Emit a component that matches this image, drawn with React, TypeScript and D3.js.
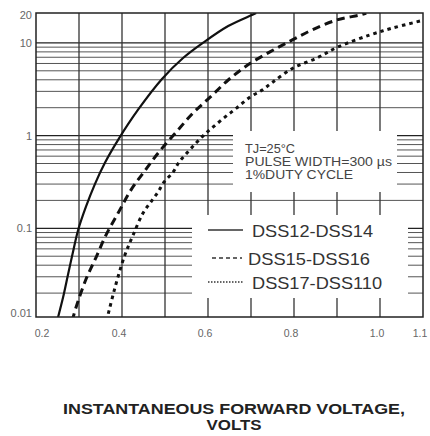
import * as d3 from "d3";
import React, { useEffect, useRef } from "react";

// axis ticks
const xTickValues = [0.2, 0.4, 0.6, 0.8, 1.0, 1.1];
const xTickLabels = ["0.2", "0.4", "0.6", "0.8", "1.0", "1.1"];
const yTickValues = [0.01, 0.1, 1, 10, 20];
const yTickLabels = ["0.01", "0.1", "1", "10", "20"];

// DSS12-DSS14 (solid)
const dss12Volts = [0.249, 0.263, 0.274, 0.286, 0.298, 0.316, 0.337, 0.36, 0.391, 0.437, 0.493, 0.542, 0.588, 0.647, 0.702, 0.712];
const dss12Amps = [0.01, 0.018, 0.031, 0.0555, 0.096, 0.17, 0.3, 0.506, 0.9, 1.89, 4.08, 6.87, 10, 15.2, 20, 21];

// DSS15-DSS16 (dashed)
const dss15Volts = [0.284, 0.293, 0.316, 0.34, 0.363, 0.391, 0.421, 0.451, 0.486, 0.526, 0.565, 0.605, 0.647, 0.693, 0.744, 0.795, 0.842, 0.9, 0.953, 0.968];
const dss15Amps = [0.01, 0.014, 0.028, 0.049, 0.085, 0.146, 0.26, 0.405, 0.665, 1.09, 1.75, 2.6, 3.98, 5.8, 8.0, 10.7, 13.8, 17.7, 20, 21];

// DSS17-DSS110 (dotted)
const dss17Volts = [0.364, 0.381, 0.405, 0.426, 0.449, 0.467, 0.484, 0.498, 0.519, 0.533, 0.553, 0.572, 0.591, 0.612, 0.64, 0.667, 0.698, 0.726, 0.751, 0.798, 0.853, 0.902, 0.977, 1.03, 1.093];
const dss17Amps = [0.01, 0.0206, 0.049, 0.085, 0.146, 0.192, 0.247, 0.316, 0.405, 0.52, 0.665, 0.83, 1.02, 1.24, 1.59, 1.99, 2.61, 3.1, 3.79, 5.36, 6.87, 9.03, 12.2, 14.5, 17.2];

const seriesNames = ["DSS12-DSS14", "DSS15-DSS16", "DSS17-DSS110"];
const noteLines = ["TJ=25°C", "PULSE WIDTH=300 µs", "1%DUTY CYCLE"];
const xTitleLines = ["INSTANTANEOUS FORWARD VOLTAGE,", "VOLTS"];

const FONT = "'Liberation Sans', Arial, sans-serif";

const DiodeChart: React.FC = () => {
  const ref = useRef<SVGSVGElement | null>(null);

  useEffect(() => {
    const svg = d3.select(ref.current);
    svg.selectAll("*").remove();

    const width = 430;
    const height = 436;
    const plot = { left: 36, right: 423, top: 13, bottom: 317 };

    svg.attr("width", width).attr("height", height);
    svg.append("rect").attr("width", width).attr("height", height).attr("fill", "white");

    const x = d3.scaleLinear().domain([0.2, 1.1]).range([plot.left, plot.right]);
    const y = d3.scaleLog().domain([0.01, 20]).range([plot.bottom + 4, plot.top + 2]);

    // horizontal grid (log)
    const isDecade = (v: number) => Math.abs(Math.log10(v) - Math.round(Math.log10(v))) < 1e-6;
    svg.append("g")
      .selectAll("line")
      .data(y.ticks().filter((v) => v > 0.0101 && v < 19.9))
      .enter()
      .append("line")
      .attr("x1", plot.left)
      .attr("x2", plot.right)
      .attr("y1", (d) => y(d))
      .attr("y2", (d) => y(d))
      .attr("stroke", (d) => (isDecade(d) ? "#222" : "#555"))
      .attr("stroke-width", (d) => (isDecade(d) ? 1.3 : 1));

    // vertical grid
    svg.append("g")
      .selectAll("line")
      .data(x.ticks(9).filter((v) => v > 0.21 && v < 1.09))
      .enter()
      .append("line")
      .attr("x1", (d) => x(d))
      .attr("x2", (d) => x(d))
      .attr("y1", plot.top)
      .attr("y2", plot.bottom)
      .attr("stroke", "#333")
      .attr("stroke-width", 1.3);

    // white boxes behind the notes and legend
    svg.append("rect").attr("x", 233).attr("y", 131).attr("width", 164).attr("height", 61).attr("fill", "white");
    svg.append("rect").attr("x", 192).attr("y", 215).attr("width", 216).attr("height", 83).attr("fill", "white");

    // curves
    svg.append("clipPath").attr("id", "plot-clip")
      .append("rect")
      .attr("x", plot.left).attr("y", plot.top)
      .attr("width", plot.right - plot.left).attr("height", plot.bottom - plot.top);

    const line = d3.line<[number, number]>()
      .x((d) => x(d[0]))
      .y((d) => y(d[1]))
      .curve(d3.curveCatmullRom);

    const series = [
      { v: dss12Volts, a: dss12Amps, dash: null, w: 2.2 },
      { v: dss15Volts, a: dss15Amps, dash: "8,5", w: 3 },
      { v: dss17Volts, a: dss17Amps, dash: "3.5,4", w: 3 },
    ];

    const curves = svg.append("g").attr("clip-path", "url(#plot-clip)");
    series.forEach((s) => {
      const pts = s.v.map((v, i) => [v, s.a[i]] as [number, number]);
      curves.append("path")
        .attr("d", line(pts))
        .attr("fill", "none")
        .attr("stroke", "#111")
        .attr("stroke-width", s.w)
        .attr("stroke-dasharray", s.dash);
    });

    // frame
    svg.append("rect")
      .attr("x", plot.left).attr("y", plot.top)
      .attr("width", plot.right - plot.left).attr("height", plot.bottom - plot.top)
      .attr("fill", "none").attr("stroke", "#222").attr("stroke-width", 1.5);

    // y tick labels
    svg.append("g")
      .selectAll("text")
      .data(yTickValues)
      .enter()
      .append("text")
      .attr("x", 32)
      .attr("y", (d) => Math.min(y(d), 313) + 4)
      .attr("text-anchor", "end")
      .style("font-family", FONT)
      .style("font-size", "11px")
      .attr("fill", "#666")
      .text((_, i) => yTickLabels[i]);

    // x tick labels
    svg.append("g")
      .selectAll("text")
      .data(xTickValues)
      .enter()
      .append("text")
      .attr("x", (d) => Math.max(42, Math.min(420, x(d) - 3)))
      .attr("y", 337)
      .attr("text-anchor", "middle")
      .style("font-family", FONT)
      .style("font-size", "10.5px")
      .attr("fill", "#666")
      .text((_, i) => xTickLabels[i]);

    // test conditions
    const noteWidths = [50, 147, 108];
    noteLines.forEach((t, i) => {
      svg.append("text")
        .attr("x", 245)
        .attr("y", 153 + i * 13)
        .attr("textLength", noteWidths[i])
        .attr("lengthAdjust", "spacingAndGlyphs")
        .style("font-family", FONT)
        .style("font-size", "12px")
        .attr("fill", "#444")
        .text(t);
    });

    // legend
    const legendY = [230, 258, 282];
    const legendTextX = [252, 248, 252];
    const legendTextW = [121, 122, 130];
    const legendDash = [null, "4,3", "1.5,1.5"];
    const legendLineX = [[208, 243], [212, 242], [208, 243]];
    seriesNames.forEach((name, i) => {
      svg.append("line")
        .attr("x1", legendLineX[i][0]).attr("x2", legendLineX[i][1])
        .attr("y1", legendY[i]).attr("y2", legendY[i])
        .attr("stroke", "#333")
        .attr("stroke-width", 1.5)
        .attr("stroke-dasharray", legendDash[i]);
      svg.append("text")
        .attr("x", legendTextX[i])
        .attr("y", legendY[i] + 7)
        .attr("textLength", legendTextW[i])
        .attr("lengthAdjust", "spacingAndGlyphs")
        .style("font-family", FONT)
        .style("font-size", "17px")
        .attr("fill", "#333")
        .text(name);
    });

    // x title
    const titleW = [342, 55];
    xTitleLines.forEach((t, i) => {
      svg.append("text")
        .attr("x", 234 - titleW[i] / 2)
        .attr("y", 414 + i * 16)
        .attr("textLength", titleW[i])
        .attr("lengthAdjust", "spacingAndGlyphs")
        .style("font-family", FONT)
        .style("font-size", "14.5px")
        .style("font-weight", "bold")
        .attr("fill", "#222")
        .text(t);
    });

    return () => {
      svg.selectAll("*").remove();
    };
  }, []);

  return <svg ref={ref} style={{ position: "absolute", left: 0, top: 0 }} />;
};

export default function App() {
  return <DiodeChart />;
}
